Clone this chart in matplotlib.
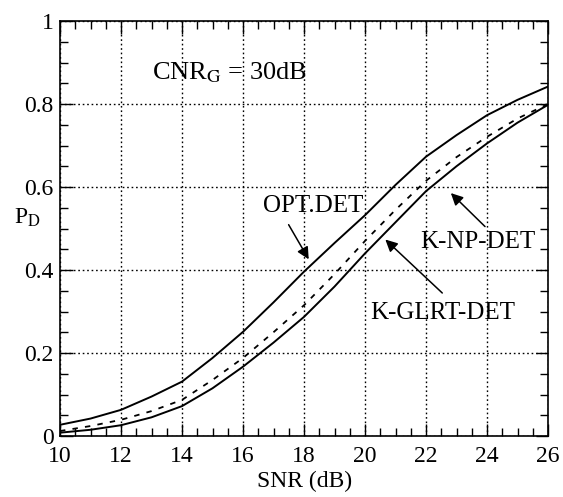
import numpy as np
import matplotlib
matplotlib.use("Agg")
import matplotlib.pyplot as plt
from matplotlib.ticker import MultipleLocator, FuncFormatter

plt.rcParams['font.family'] = ['Liberation Serif', 'DejaVu Serif']
plt.rcParams['mathtext.fontset'] = 'stix'

snr = [10, 11, 12, 13, 14, 15, 16, 17, 18, 19, 20, 21, 22, 23, 24, 25, 26]
opt_det = [0.027, 0.042, 0.063, 0.095, 0.131, 0.188, 0.251, 0.322, 0.396, 0.465,
           0.532, 0.605, 0.673, 0.725, 0.773, 0.810, 0.842]
k_np_det = [0.008, 0.015, 0.026, 0.045, 0.072, 0.115, 0.167, 0.225, 0.287, 0.360,
            0.440, 0.515, 0.590, 0.650, 0.705, 0.755, 0.798]
k_glrt_det = [0.012, 0.024, 0.039, 0.060, 0.087, 0.135, 0.188, 0.250, 0.315, 0.390,
              0.470, 0.545, 0.615, 0.672, 0.721, 0.765, 0.800]
xticks = [10, 12, 14, 16, 18, 20, 22, 24, 26]
yticks = [0, 0.2, 0.4, 0.6, 0.8, 1]

fig = plt.figure(figsize=(5.63, 4.97), dpi=100)
ax = fig.add_axes([60/563, 61/497, 488/563, 415/497])

ax.plot(snr, opt_det, color='black', lw=1.4)
ax.plot(snr, k_np_det, color='black', lw=1.4)
ax.plot(snr, k_glrt_det, color='black', lw=1.3, linestyle=(0, (3, 4)))

ax.set_xlim(10, 26)
ax.set_ylim(0, 1)
ax.set_xticks(xticks)
ax.set_yticks(yticks)
ax.xaxis.set_minor_locator(MultipleLocator(0.5))
ax.yaxis.set_minor_locator(MultipleLocator(0.05))
ax.yaxis.set_major_formatter(FuncFormatter(lambda v, p: f"{v:g}"))
ax.tick_params(which='both', direction='in', top=True, right=True, labelsize=17, width=1, colors='black')
ax.tick_params(which='major', length=9)
ax.tick_params(which='minor', length=5.5)
ax.tick_params(axis='x', which='major', pad=7.5)
ax.tick_params(axis='y', which='major', pad=4.5)
ax.grid(True, which='major', linestyle=(0, (1.2, 2)), color='black', lw=1)
for s in ax.spines.values():
    s.set_linewidth(1.2)

ax.set_xlabel('SNR (dB)', fontsize=17)
ax.xaxis.set_label_coords(0.502, -0.085)
fig.text(27/563, 1 - 218/497, r'P$_{\mathrm{D}}$', fontsize=17, ha='center', va='center')

ax.text(13.0, 0.875, r'CNR$_{\mathrm{G}}$ = 30dB', fontsize=19, ha='left', va='center')

arrowprops = dict(arrowstyle='-|>', color='black', lw=1.1, mutation_scale=18)
ax.text(18.3, 0.555, 'OPT.DET', fontsize=18, ha='center', va='center')
ax.annotate('', xy=(18.2, 0.42), xytext=(17.45, 0.515), arrowprops=arrowprops)
ax.annotate('', xy=(20.6, 0.478), xytext=(22.6, 0.34), arrowprops=arrowprops)
ax.text(22.55, 0.296, 'K-GLRT-DET', fontsize=18, ha='center', va='center')
ax.annotate('', xy=(22.75, 0.59), xytext=(24.0, 0.50), arrowprops=arrowprops)
ax.text(23.7, 0.467, 'K-NP-DET', fontsize=18, ha='center', va='center')

fig.savefig('out.png', dpi=100)
